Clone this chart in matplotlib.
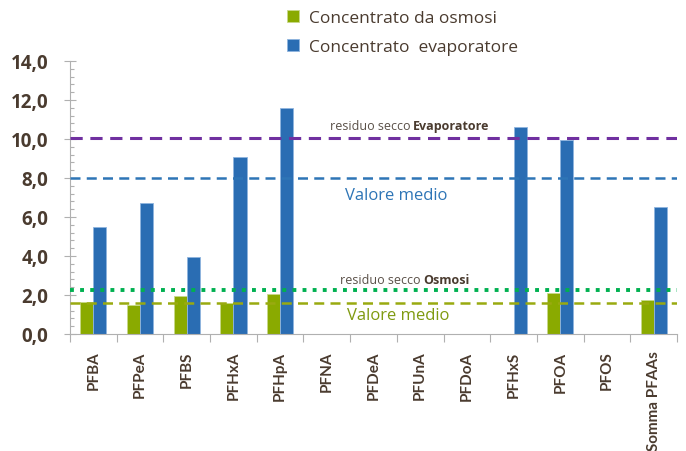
import matplotlib
matplotlib.use("Agg")
import matplotlib.pyplot as plt
import numpy as np
from matplotlib.ticker import MultipleLocator, FuncFormatter

# data
categories = ["PFBA", "PFPeA", "PFBS", "PFHxA", "PFHpA", "PFNA", "PFDeA",
              "PFUnA", "PFDoA", "PFHxS", "PFOA", "PFOS", "Somma PFAAs"]
osmosi = [1.65, 1.5, 1.95, 1.6, 2.05, 0, 0, 0, 0, 0, 2.1, 0, 1.75]
evaporatore = [5.5, 6.7, 3.95, 9.05, 11.6, 0, 0, 0, 0, 10.6, 9.95, 0, 6.5]

residuo_evap = 10.05
media_evap = 8.0
residuo_osm = 2.25
media_osm = 1.6

GREEN = "#8aaa00"
BLUE = "#2a6db3"
TXT = "#4a3b2f"

plt.rcParams['font.family'] = ['Open Sans', 'DejaVu Sans']

fig = plt.figure(figsize=(6.86, 4.52), dpi=100)
ax = fig.add_axes([0.102, 0.259, 0.885, 0.604])

x = np.arange(len(categories))
w = 0.28
ax.bar(x - w / 2, osmosi, w, color=GREEN, edgecolor="#c8d88a", linewidth=0.6,
       label="Concentrato da osmosi", zorder=2)
ax.bar(x + w / 2, evaporatore, w, color=BLUE, edgecolor="#8fb4de", linewidth=0.6,
       label="Concentrato  evaporatore", zorder=2)

# reference lines
ax.axhline(residuo_evap, color="#7030a0", ls=(0, (4, 2.5)), lw=2.2, zorder=3)
ax.axhline(media_evap, color="#2e75b6", ls=(0, (4, 2.5)), lw=1.8, zorder=3)
ax.axhline(residuo_osm, color="#00b050", ls=(0, (1, 1.6)), lw=2.8, zorder=3)
ax.axhline(media_osm, color="#99aa10", ls=(0, (4, 2.5)), lw=1.8, zorder=3)


def two_part(xd, yd, light, bold):
    t = ax.text(xd, yd, light, fontsize=9, color="#5a5048", ha="left", va="center")
    ax.annotate(bold, xy=(1, 0.5), xycoords=t, xytext=(2, 0), textcoords="offset points",
                fontsize=9, color=TXT, weight="bold", ha="left", va="center")


two_part(5.07, 10.67, "residuo secco", "Evaporatore")
two_part(5.28, 2.77, "residuo secco", "Osmosi")
ax.text(5.39, 7.1, "Valore medio", fontsize=12, color="#2e75b6", ha="left", va="center")
ax.text(5.43, 0.97, "Valore medio", fontsize=12, color="#7f9a10", ha="left", va="center")

ax.set_xlim(-0.5, len(categories) - 0.5)
ax.set_ylim(0, 14)
ax.yaxis.set_major_locator(MultipleLocator(2))
ax.yaxis.set_minor_locator(MultipleLocator(0.4))
ax.yaxis.set_major_formatter(FuncFormatter(lambda v, p: f"{v:.1f}".replace(".", ",")))
ax.tick_params(axis="y", which="major", direction="inout", length=9, width=0.8,
               color="#b0b0b0", labelsize=13.5, labelcolor=TXT, pad=11)
ax.tick_params(axis="y", which="minor", direction="in", length=3, width=0.8, color="#b0b0b0")
for lab in ax.get_yticklabels():
    lab.set_fontweight("bold")

ax.set_xticks(x)
ax.set_xticklabels(categories, rotation=90, fontsize=11, color=TXT, weight="bold",
                   family="Lato")
ax.set_xticks(np.arange(len(categories) + 1) - 0.5, minor=True)
ax.tick_params(axis="x", which="major", length=0, pad=12)
ax.tick_params(axis="x", which="minor", length=6, width=0.8, color="#b0b0b0")

for s in ["top", "right"]:
    ax.spines[s].set_visible(False)
for s in ["left", "bottom"]:
    ax.spines[s].set_color("#b0b0b0")
    ax.spines[s].set_linewidth(0.8)

fig.legend(loc="upper left", bbox_to_anchor=(0.395, 1.01), frameon=False,
           fontsize=12.5, labelcolor=TXT, handlelength=0.7, handleheight=0.7,
           handletextpad=0.6, labelspacing=0.75)

fig.savefig("out.png", dpi=100)
